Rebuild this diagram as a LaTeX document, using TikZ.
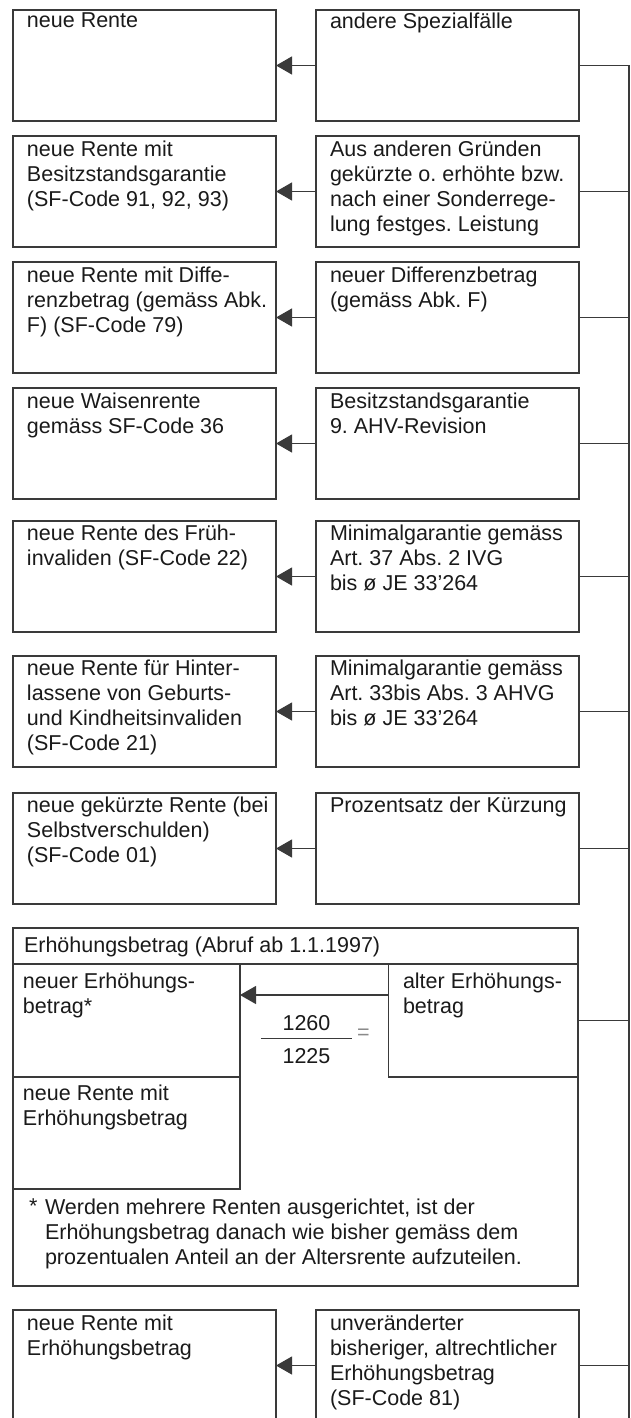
\documentclass[tikz,border=0pt]{standalone}
\usepackage{fontspec}
\setmainfont{Liberation Sans}
\usepackage{xcolor}
\usepackage{tikz}
\usetikzlibrary{arrows.meta,positioning}
\definecolor{LinienFarbe}{HTML}{3A3A3A}
\definecolor{TextFarbe}{HTML}{1A1A1A}
\definecolor{GleichFarbe}{HTML}{8A8A8A}
\newcommand\kastenfont{\fontsize{21.5}{25}\selectfont}
\frenchspacing

\begin{document}
\begin{tikzpicture}[x=1pt,y=-1pt,
  kasten/.style={draw=LinienFarbe,line width=1.2pt,minimum width=263pt,minimum height=111pt,inner sep=0pt,outer sep=0pt,anchor=north west},
  lbl/.style={inner sep=0pt,outer sep=0pt,align=left,anchor=north west,font=\kastenfont,text=TextFarbe},
  pfeil/.style={draw=LinienFarbe,line width=1.2pt,-{Triangle[length=16pt,width=18pt]}},
  linie/.style={draw=LinienFarbe,line width=1.2pt}]
  \useasboundingbox (0,0) rectangle (630,1418);

  % linke und rechte Spalte
  \node[kasten] (neu) at (13,10) {};
  \node[kasten,right=40pt of neu] (spez) {};
  \node[kasten,below=15pt of neu] (besitz) {};
  \node[kasten,right=40pt of besitz] (grund) {};
  \node[kasten,below=15pt of besitz] (diffrente) {};
  \node[kasten,right=40pt of diffrente] (diff) {};
  \node[kasten,below=15pt of diffrente] (waisen) {};
  \node[kasten,right=40pt of waisen] (bsg) {};
  \node[kasten,below=22pt of waisen] (frueh) {};
  \node[kasten,right=40pt of frueh] (min37) {};
  \node[kasten,below=24pt of frueh] (hinter) {};
  \node[kasten,right=40pt of hinter] (min33) {};
  \node[kasten,below=26pt of hinter] (gekuerzt) {};
  \node[kasten,right=40pt of gekuerzt] (proz) {};

  % Erhoehungsbetrag
  \node[kasten,minimum width=565pt,minimum height=358pt,below right=24pt and 0pt of gekuerzt.south west] (erh) {};
  \node[kasten,minimum width=565pt,minimum height=36pt] (erhtitel) at (erh.north west) {};
  \node[kasten,minimum width=227pt,minimum height=113pt] (neuerh) at (erhtitel.south west) {};
  \node[kasten,minimum width=227pt,minimum height=112pt,below=0pt of neuerh] (renteerh) {};
  \node[kasten,minimum width=189.5pt,minimum height=113pt,anchor=north east] (alterh) at (erhtitel.south east) {};
  \node[inner sep=0pt,minimum width=91pt] (bruch) at (306.5,1038) {};
  \node[lbl,anchor=south,above=7pt of bruch] (zaehler) {1260};
  \node[lbl,anchor=north,below=10pt of bruch] (nenner) {1225};
  \node[lbl,right=5pt of bruch,yshift=4pt,text=GleichFarbe] (gleich) {=};

  % letzte Zeile
  \node[kasten,below right=24pt and 0pt of erh.south west] (rente81) {};
  \node[kasten,right=40pt of rente81] (unver) {};

  % Texte
  \node[lbl,below right=2.5pt and 14pt of neu.north west] (neutxt) {neue Rente};
  \node[lbl,below right=2.5pt and 14pt of spez.north west] (speztxt) {andere Spezialfälle};
  \node[lbl,below right=5pt and 14pt of besitz.north west] (besitztxt) {neue Rente mit\\Besitzstandsgarantie\\(SF-Code 91, 92, 93)};
  \node[lbl,below right=5pt and 14pt of grund.north west] (grundtxt) {Aus anderen Gründen\\gekürzte o. erhöhte bzw.\\nach einer Sonderrege-\\lung festges. Leistung};
  \node[lbl,below right=5pt and 14pt of diffrente.north west] (diffrentetxt) {neue Rente mit Diffe-\\renzbetrag (gemäss Abk.\\F) (SF-Code 79)};
  \node[lbl,below right=5pt and 14pt of diff.north west] (difftxt) {neuer Differenzbetrag\\(gemäss Abk. F)};
  \node[lbl,below right=5pt and 14pt of waisen.north west] (waisentxt) {neue Waisenrente\\gemäss SF-Code 36};
  \node[lbl,below right=5pt and 14pt of bsg.north west] (bsgtxt) {Besitzstandsgarantie\\9. AHV-Revision};
  \node[lbl,below right=4pt and 14pt of frueh.north west] (fruehtxt) {neue Rente des Früh-\\invaliden (SF-Code 22)};
  \node[lbl,below right=4pt and 14pt of min37.north west] (min37txt) {Minimalgarantie gemäss\\Art. 37 Abs. 2 IVG\\bis ø JE 33’264};
  \node[lbl,below right=4pt and 14pt of hinter.north west] (hintertxt) {neue Rente für Hinter-\\lassene von Geburts-\\und Kindheitsinvaliden\\(SF-Code 21)};
  \node[lbl,below right=4pt and 14pt of min33.north west] (min33txt) {Minimalgarantie gemäss\\Art. 33bis Abs. 3 AHVG\\bis ø JE 33’264};
  \node[lbl,below right=4pt and 14pt of gekuerzt.north west] (gekuerzttxt) {neue gekürzte Rente (bei\\Selbstverschulden)\\(SF-Code 01)};
  \node[lbl,below right=4pt and 14pt of proz.north west] (proztxt) {Prozentsatz der Kürzung};
  \node[lbl,below right=8.5pt and 11pt of erhtitel.north west] (erhtiteltxt) {Erhöhungsbetrag (Abruf ab 1.1.1997)};
  \node[lbl,below right=8.5pt and 10pt of neuerh.north west] (neuerhtxt) {neuer Erhöhungs-\\betrag*};
  \node[lbl,below right=8.5pt and 14.5pt of alterh.north west] (alterhtxt) {alter Erhöhungs-\\betrag};
  \node[lbl,below right=7.5pt and 10pt of renteerh.north west] (renteerhtxt) {neue Rente mit\\Erhöhungsbetrag};
  \node[lbl,below right=9.5pt and 16pt of renteerh.south west] (stern) {*};
  \node[lbl,below right=9.5pt and 32pt of renteerh.south west] (fussnote) {Werden mehrere Renten ausgerichtet, ist der\\Erhöhungsbetrag danach wie bisher gemäss dem\\prozentualen Anteil an der Altersrente aufzuteilen.};
  \node[lbl,below right=5pt and 14pt of rente81.north west] (rente81txt) {neue Rente mit\\Erhöhungsbetrag};
  \node[lbl,below right=5pt and 14pt of unver.north west] (unvertxt) {unveränderter\\bisheriger, altrechtlicher\\Erhöhungsbetrag\\(SF-Code 81)};

  % Pfeile
  \foreach \r/\l in {spez/neu,grund/besitz,diff/diffrente,bsg/waisen,min37/frueh,min33/hinter,proz/gekuerzt,unver/rente81}
    \draw[pfeil] (\r) -- (\l);
  \draw[pfeil] ([yshift=-31pt]alterh.north west) -- ([yshift=-31pt]neuerh.north east);
  \draw[linie,line width=1pt] (bruch.west) -- (bruch.east);

  % Sammelleitung rechts
  \coordinate (busende) at (629,1430);
  \draw[linie] (spez.east) -| (busende);
  \foreach \k in {grund,diff,bsg,min37,min33,proz,alterh,unver}
    \draw[linie] (\k.east) -- (\k.east -| busende);
\end{tikzpicture}
\end{document}
